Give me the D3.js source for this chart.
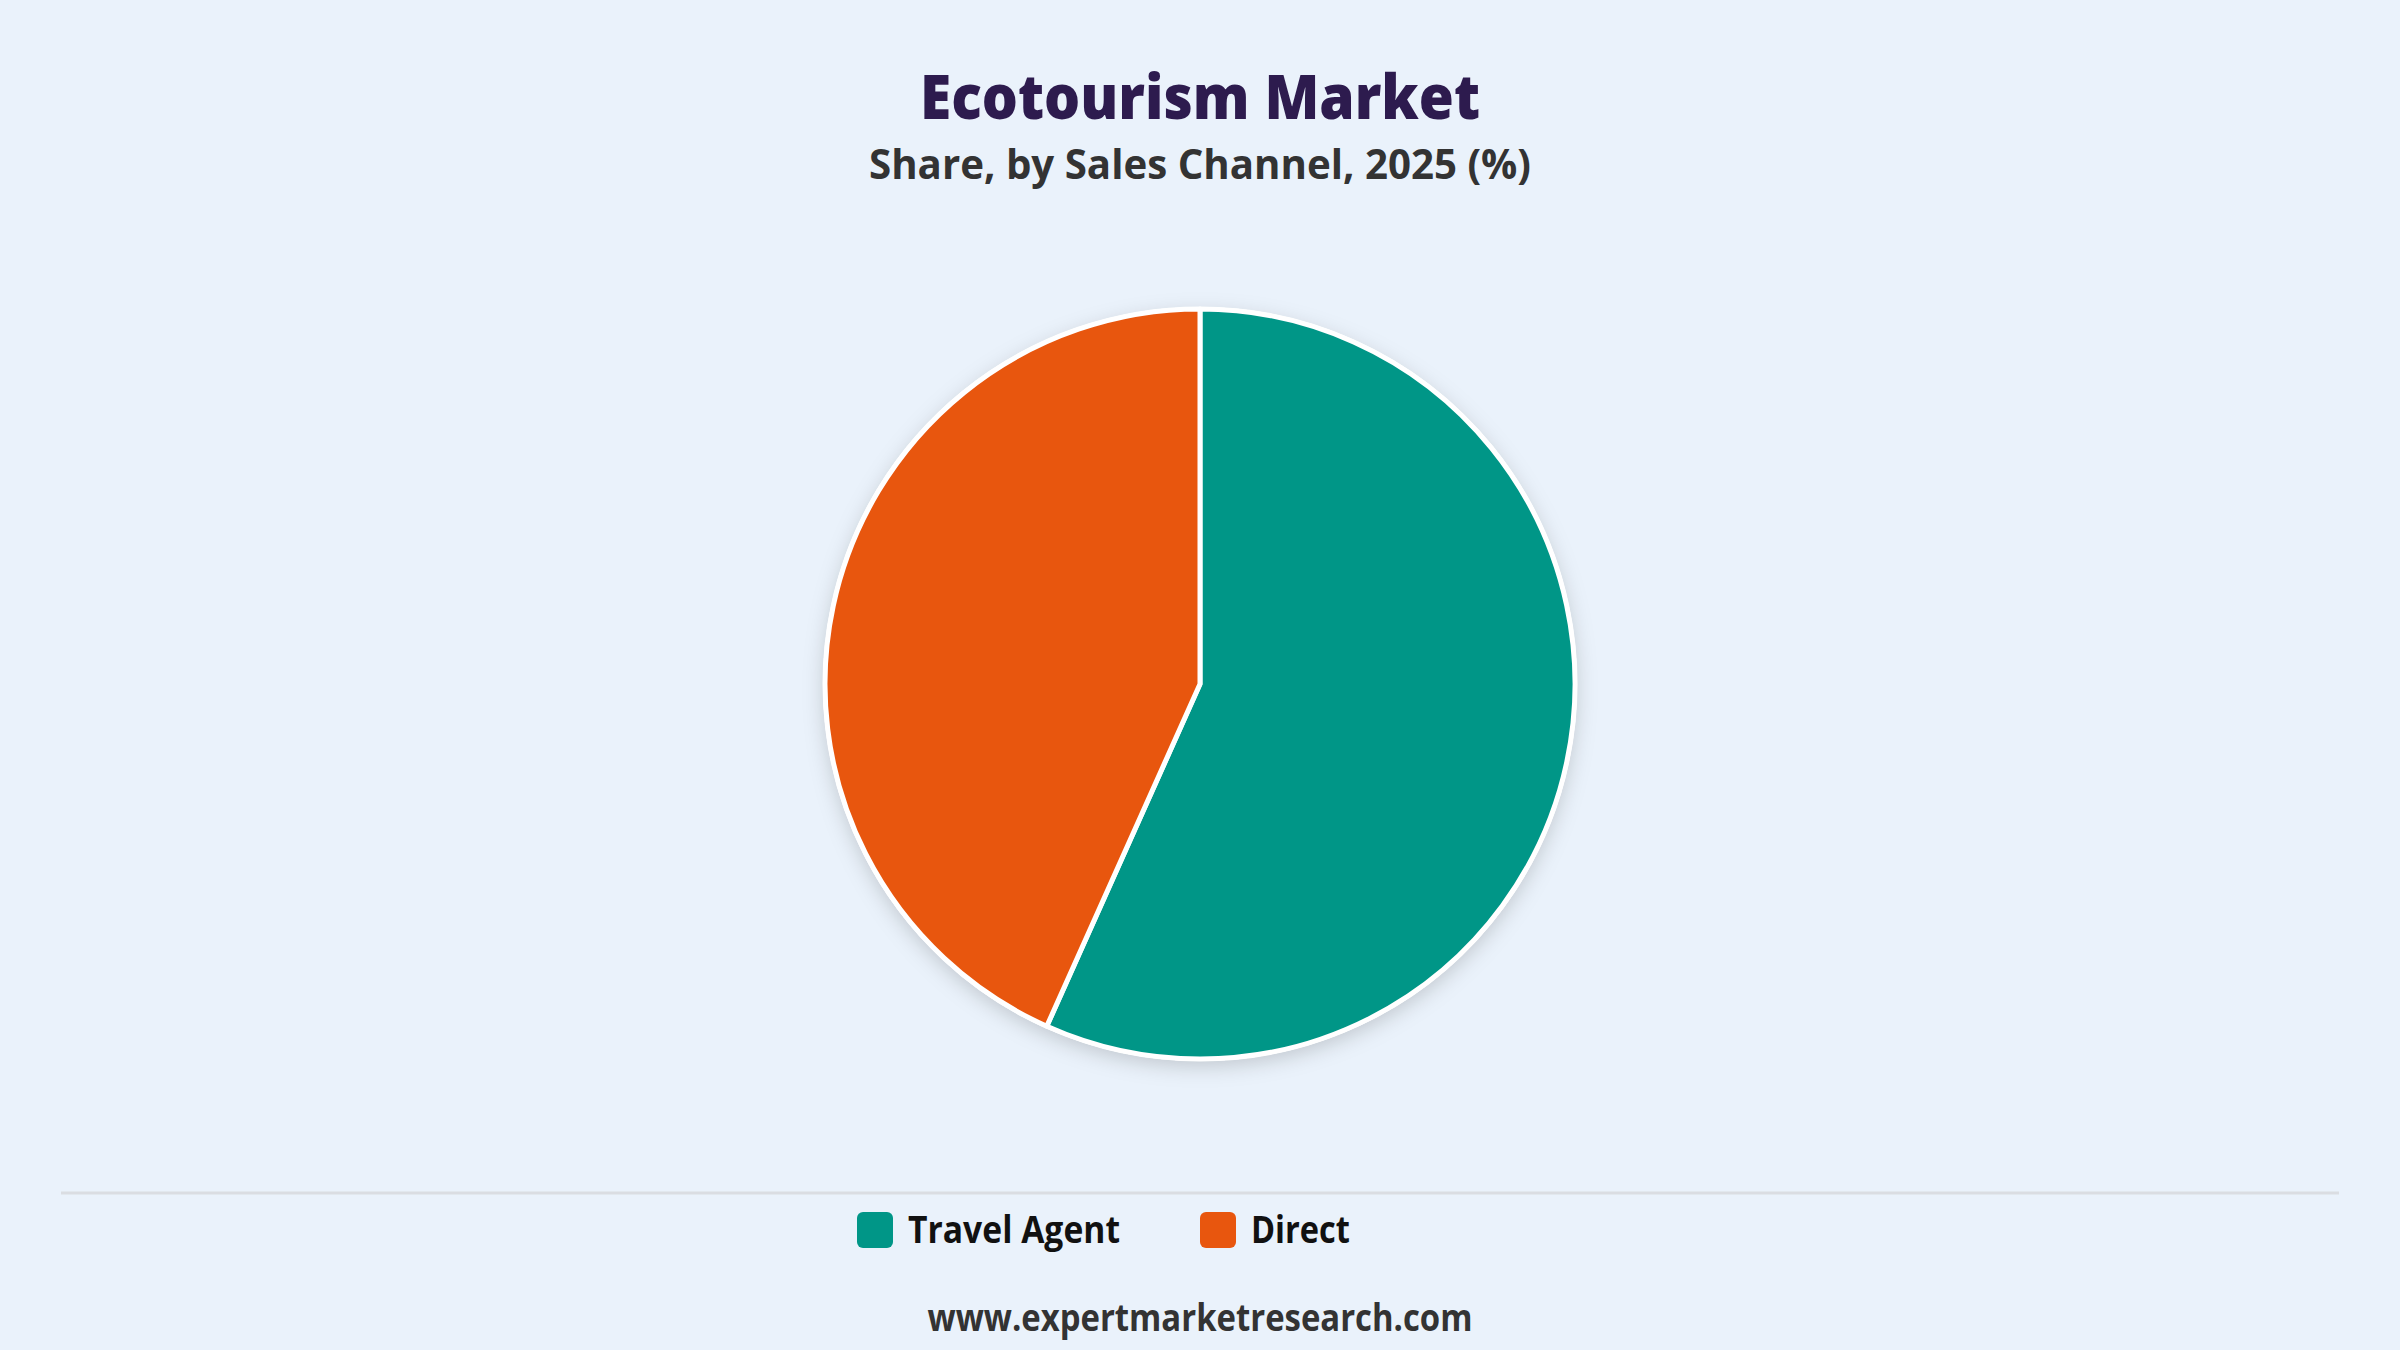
<!DOCTYPE html>
<html>
<head>
<meta charset="utf-8">
<script src="https://cdn.jsdelivr.net/npm/d3@7"></script>
<style>
  html, body { margin: 0; padding: 0; background: #eaf2fb; }
  svg { display: block; font-family: "Open Sans", "Noto Sans", sans-serif; }
</style>
</head>
<body>
<div id="chart"></div>
<script>
const channels = ["Travel Agent", "Direct"];
const shares = [56.7, 43.3];
const colors = ["#009687", "#e8560e"];

const width = 2400, height = 1350;
const cx = 1200, cy = 684, radius = 375;

const svg = d3.select("#chart").append("svg")
  .attr("width", width)
  .attr("height", height);

svg.append("rect").attr("width", width).attr("height", height).attr("fill", "#eaf2fb");

const defs = svg.append("defs");
const shadow = defs.append("filter").attr("id", "shadow")
  .attr("x", "-20%").attr("y", "-20%").attr("width", "140%").attr("height", "140%");
shadow.append("feDropShadow")
  .attr("dx", 0).attr("dy", 6).attr("stdDeviation", 10)
  .attr("flood-color", "#000").attr("flood-opacity", 0.17);

// squeeze text to the narrow width seen in the picture
const fit = (sel, w) => {
  const n = sel.node();
  if (n.getComputedTextLength() > w) sel.attr("textLength", w).attr("lengthAdjust", "spacingAndGlyphs");
  return sel;
};

fit(svg.append("text")
  .attr("x", cx).attr("y", 119)
  .attr("text-anchor", "middle")
  .attr("font-size", 62).attr("font-weight", 800)
  .attr("fill", "#2d1b4e")
  .text("Ecotourism Market"), 560);

fit(svg.append("text")
  .attr("x", cx).attr("y", 179)
  .attr("text-anchor", "middle")
  .attr("font-size", 42).attr("font-weight", 700)
  .attr("fill", "#333")
  .text("Share, by Sales Channel, 2025 (%)"), 662);

const pie = d3.pie().sort(null).value(d => d);
const arc = d3.arc().innerRadius(0).outerRadius(radius);

const g = svg.append("g").attr("transform", `translate(${cx},${cy})`);

g.append("circle").attr("r", radius + 2).attr("fill", "#fff").attr("filter", "url(#shadow)");

g.selectAll("path")
  .data(pie(shares))
  .enter()
  .append("path")
  .attr("d", arc)
  .attr("fill", (_, i) => colors[i])
  .attr("stroke", "#fff")
  .attr("stroke-width", 5)
  .attr("stroke-linejoin", "round");

svg.append("line")
  .attr("x1", 61).attr("x2", 2339)
  .attr("y1", 1193).attr("y2", 1193)
  .attr("stroke", "#dadde2").attr("stroke-width", 3);

// legend
const legendX = [857, 1200];
const legendW = [212, 99];
const legend = svg.selectAll(".legend")
  .data(channels)
  .enter()
  .append("g")
  .attr("class", "legend")
  .attr("transform", (_, i) => `translate(${legendX[i]},1212)`);

legend.append("rect")
  .attr("width", 36).attr("height", 36).attr("rx", 6)
  .attr("fill", (_, i) => colors[i]);

legend.append("text")
  .attr("x", 51).attr("y", 31)
  .attr("font-size", 37).attr("font-weight", 700)
  .attr("fill", "#111")
  .text(d => d)
  .each(function(_, i) { fit(d3.select(this), legendW[i]); });

fit(svg.append("text")
  .attr("x", cx).attr("y", 1331)
  .attr("text-anchor", "middle")
  .attr("font-size", 37).attr("font-weight", 700)
  .attr("fill", "#333")
  .text("www.expertmarketresearch.com"), 545);
</script>
</body>
</html>
